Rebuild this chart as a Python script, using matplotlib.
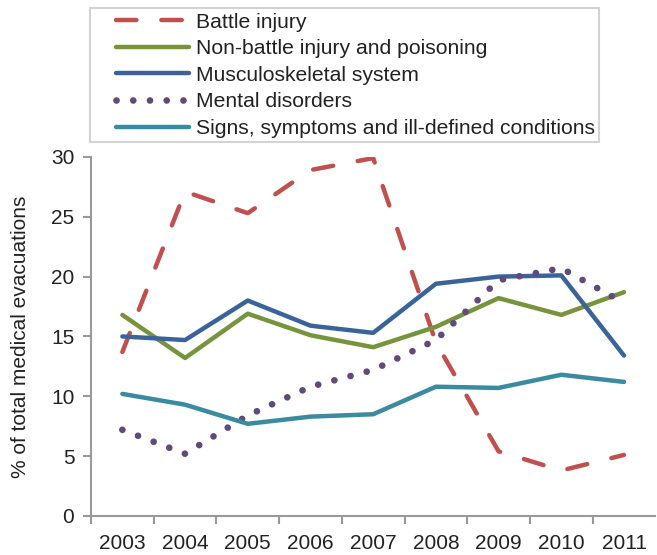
import matplotlib
matplotlib.use("Agg")
import matplotlib.pyplot as plt
from matplotlib.lines import Line2D
from matplotlib.legend_handler import HandlerLine2D
import numpy as np

plt.rcParams['font.family'] = ['Liberation Sans', 'DejaVu Sans']

years = ["2003", "2004", "2005", "2006", "2007", "2008", "2009", "2010", "2011"]
battle = [13.7, 27.1, 25.3, 28.9, 29.9, 14.5, 5.4, 3.8, 5.1]
nonbattle = [16.8, 13.2, 16.9, 15.1, 14.1, 15.8, 18.2, 16.8, 18.7]
musculo = [15.0, 14.7, 18.0, 15.9, 15.3, 19.4, 20.0, 20.1, 13.4]
mental = [7.2, 5.2, 8.4, 10.8, 12.2, 14.7, 19.7, 20.7, 17.8]
signs = [10.2, 9.3, 7.7, 8.3, 8.5, 10.8, 10.7, 11.8, 11.2]
labels = ["Battle injury", "Non-battle injury and poisoning", "Musculoskeletal system",
          "Mental disorders", "Signs, symptoms and ill-defined conditions"]

fig = plt.figure(figsize=(6.57, 5.55), dpi=100)
ax = fig.add_axes([0.1385, 0.0703, 0.859, 0.647])
x = np.arange(len(years))
lw = 3.2
l1, = ax.plot(x, battle, color="#C0504D", lw=lw, dashes=(4.6, 5.6), dash_capstyle="round", solid_capstyle="round")
l2, = ax.plot(x, nonbattle, color="#77933C", lw=lw, solid_capstyle="round")
l3, = ax.plot(x, musculo, color="#3A6499", lw=lw, solid_capstyle="round")
l4, = ax.plot(x, mental, color="#604A7B", lw=4.8, dashes=(0.01, 2.5), dash_capstyle="round")
l5, = ax.plot(x, signs, color="#3A8BA0", lw=lw, solid_capstyle="round")

ax.set_xlim(-0.5, 8.5)
ax.set_ylim(0, 30)
ax.set_yticks([0, 5, 10, 15, 20, 25, 30])
ax.set_xticks(np.arange(-0.5, 8.0, 1.0))
ax.set_xticklabels([])
ax.set_xticks(x, minor=True)
ax.set_xticklabels(years, minor=True)
ax.tick_params(axis='x', which='minor', length=0, pad=13, labelsize=15, colors="#222222")
ax.tick_params(axis='x', which='major', length=6, width=1.5, color="#999999", direction='out')
ax.tick_params(axis='y', length=6, width=1.5, color="#999999", direction='out', labelsize=15, labelcolor="#222222", pad=6)
for s in ['top', 'right']:
    ax.spines[s].set_visible(False)
for s in ['left', 'bottom']:
    ax.spines[s].set_color("#999999")
    ax.spines[s].set_linewidth(1.5)
ax.set_ylabel("% of total medical evacuations", fontsize=15, color="#222222", labelpad=15)

leg = fig.legend([l1, l2, l3, l4, l5], labels, loc="upper left", bbox_to_anchor=(0.137, 0.985),
                 fontsize=15.2, frameon=True, fancybox=False, handlelength=4.5, handletextpad=0.3,
                 labelspacing=0.36, borderpad=0.2, borderaxespad=0,
                 handler_map={Line2D: HandlerLine2D(xpad=1.05)})
leg.get_frame().set_edgecolor("#C8C8C8")
leg.get_frame().set_linewidth(1.5)
for t in leg.get_texts():
    t.set_color("#222222")

fig.savefig("out.png", dpi=100)
